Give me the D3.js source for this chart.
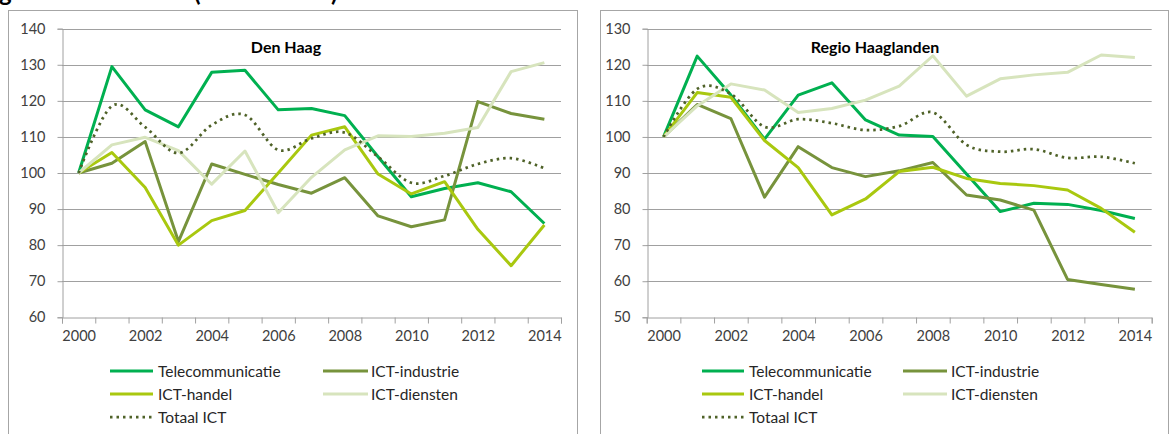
<!DOCTYPE html>
<html>
<head>
<meta charset="utf-8">
<script src="https://cdn.jsdelivr.net/npm/d3@7"></script>
<style>
  body { margin: 0; background: #fff; }
  svg { display: block; font-family: Lato, "Open Sans", sans-serif; }
</style>
</head>
<body>
<svg id="chart" width="1170" height="434"></svg>
<script>
// jaren en reeksen
const jaren = [2000, 2001, 2002, 2003, 2004, 2005, 2006, 2007, 2008, 2009, 2010, 2011, 2012, 2013, 2014];
const jaarLabels = [2000, 2002, 2004, 2006, 2008, 2010, 2012, 2014];
const reeksNamen = ["Telecommunicatie", "ICT-industrie", "ICT-handel", "ICT-diensten", "Totaal ICT"];
const reeksKleuren = ["#00b050", "#77933c", "#a9c80f", "#d7e4bd", "#4f6228"];

// Den Haag (index 2000 = 100)
const dhTelecom   = [100, 129.5, 117.5, 112.8, 127.9, 128.5, 117.5, 117.9, 115.9, 104.5, 93.4, 95.7, 97.3, 94.8, 86.0];
const dhIndustrie = [100, 102.7, 108.7, 81.0, 102.5, 99.6, 96.8, 94.4, 98.7, 88.1, 85.1, 87.0, 119.8, 116.5, 114.9];
const dhHandel    = [100, 105.7, 96.0, 80.0, 86.8, 89.6, 100.0, 110.5, 112.8, 99.7, 94.2, 97.6, 84.4, 74.3, 85.6];
const dhDiensten  = [100, 107.8, 109.9, 106.2, 96.9, 106.1, 89.0, 98.8, 106.4, 110.3, 110.1, 111.0, 112.6, 128.1, 130.6];
const dhTotaal    = [100, 118.6, 112.7, 105.5, 113.3, 116.1, 106.4, 109.6, 111.2, 104.5, 97.3, 99.2, 102.5, 104.1, 101.3];

// Regio Haaglanden (index 2000 = 100)
const rhTelecom   = [100, 122.4, 111.6, 99.4, 111.6, 115.0, 104.7, 100.5, 100.1, 89.7, 79.3, 81.6, 81.3, 79.6, 77.4];
const rhIndustrie = [100, 109.0, 105.1, 83.3, 97.3, 91.5, 89.0, 90.6, 92.9, 83.9, 82.5, 79.7, 60.5, 59.1, 57.8];
const rhHandel    = [100, 112.3, 111.0, 99.0, 91.5, 78.4, 82.8, 90.4, 91.6, 88.5, 87.1, 86.5, 85.3, 80.2, 73.6];
const rhDiensten  = [100, 108.6, 114.7, 113.0, 106.8, 107.9, 110.2, 114.1, 122.5, 111.3, 116.1, 117.2, 117.9, 122.7, 122.0];
const rhTotaal    = [100, 113.3, 111.9, 102.8, 104.9, 103.8, 101.9, 103.0, 106.8, 97.8, 95.9, 96.6, 94.2, 94.5, 92.7];

const grafieken = [
  {
    titel: "Den Haag", reeksen: [dhTelecom, dhIndustrie, dhHandel, dhDiensten, dhTotaal],
    yDomein: [60, 140],
    kader: { x: 8, y: 10, w: 569, h: 440 },
    plot: { x0: 62, x1: 561, y0: 28.7, y1: 317.3 },
    titelX: 286,
    legenda: [{ l0: 110, l1: 153, t: 158 }, { l0: 323, l1: 368, t: 371 }]
  },
  {
    titel: "Regio Haaglanden", reeksen: [rhTelecom, rhIndustrie, rhHandel, rhDiensten, rhTotaal],
    yDomein: [50, 130],
    kader: { x: 600, y: 10, w: 568, h: 440 },
    plot: { x0: 646.7, x1: 1151.7, y0: 28.7, y1: 317.3 },
    titelX: 875,
    legenda: [{ l0: 702, l1: 744, t: 749 }, { l0: 903, l1: 947, t: 951 }]
  }
];

const svg = d3.select("#chart");

// koptekst erboven, valt grotendeels buiten beeld (zoals in het origineel)
const kop = svg.append("g").attr("font-weight", "bold").attr("font-size", "24px").attr("fill", "#000");
kop.append("text").attr("x", -1).attr("y", 1).text("g");
kop.append("text").attr("x", 194).attr("y", 1).text("(");
kop.append("text").attr("x", 331).attr("y", 1).text(")");

grafieken.forEach(g => {
  const p = g.plot;
  const x = d3.scaleLinear().domain([1999.5, 2014.5]).range([p.x0, p.x1]);
  const y = d3.scaleLinear().domain(g.yDomein).range([p.y1, p.y0]);

  svg.append("rect")
      .attr("x", g.kader.x + 0.5).attr("y", g.kader.y + 0.5)
      .attr("width", g.kader.w).attr("height", g.kader.h)
      .attr("fill", "#fff").attr("stroke", "#a6a6a6");

  // rasterlijnen
  svg.append("g").selectAll("line")
      .data(y.ticks(8).filter(d => d > g.yDomein[0]))
      .enter().append("line")
      .attr("x1", p.x0).attr("x2", p.x1)
      .attr("y1", d => Math.round(y(d)) + 0.5).attr("y2", d => Math.round(y(d)) + 0.5)
      .attr("stroke", "#a0a0a0").attr("stroke-width", 1);

  // y-as
  const yAs = svg.append("g")
      .attr("transform", `translate(${Math.round(p.x0) + 0.5},0)`)
      .call(d3.axisLeft(y).ticks(8).tickSize(5).tickPadding(12));
  yAs.selectAll("text").attr("font-size", "14.5px").attr("fill", "#404040").attr("font-family", "Lato");

  // x-as: streepjes op de grenzen, labels op even jaren
  const grenzen = d3.range(1999.5, 2015, 1);
  const xAs = svg.append("g")
      .attr("transform", `translate(0,${Math.round(p.y1) + 0.5})`)
      .call(d3.axisBottom(x).tickValues(grenzen).tickSize(6).tickFormat(""));
  svg.append("g")
      .attr("transform", `translate(0,${Math.round(p.y1) + 0.5})`)
      .call(d3.axisBottom(x).tickValues(jaarLabels).tickSize(0).tickPadding(13).tickFormat(d3.format("d")))
      .call(s => s.select(".domain").remove())
      .selectAll("text").attr("font-size", "14.5px").attr("fill", "#404040").attr("font-family", "Lato");

  [yAs, xAs].forEach(a => {
    a.select(".domain").attr("stroke", "#a0a0a0");
    a.selectAll(".tick line").attr("stroke", "#a0a0a0");
  });

  // lijnen
  g.reeksen.forEach((waarden, i) => {
    const totaal = i === 4;
    const lijn = d3.line()
        .x((d, j) => x(jaren[j]))
        .y(d => y(d))
        .curve(totaal ? d3.curveCardinal : d3.curveLinear);
    svg.append("path")
        .datum(waarden)
        .attr("d", lijn)
        .attr("fill", "none")
        .attr("stroke", reeksKleuren[i])
        .attr("stroke-width", totaal ? 2.75 : 3)
        .attr("stroke-dasharray", totaal ? "2.5 4" : null)
        .attr("stroke-linejoin", "round");
  });

  // titel
  svg.append("text")
      .attr("x", g.titelX).attr("y", 53)
      .attr("text-anchor", "middle")
      .attr("font-size", "16px").attr("font-weight", "bold").attr("fill", "#000")
      .text(g.titel);

  // legenda
  const rijen = [371, 394, 417];
  reeksNamen.forEach((naam, i) => {
    const kol = g.legenda[i % 2];
    const ry = rijen[Math.floor(i / 2)];
    svg.append("line")
        .attr("x1", kol.l0).attr("x2", kol.l1)
        .attr("y1", ry).attr("y2", ry)
        .attr("stroke", reeksKleuren[i])
        .attr("stroke-width", i === 4 ? 2.75 : 3)
        .attr("stroke-dasharray", i === 4 ? "2.5 4" : null);
    svg.append("text")
        .attr("x", kol.t).attr("y", ry + 5.5)
        .attr("font-size", "15.5px").attr("fill", "#262626")
        .text(naam);
  });
});
</script>
</body>
</html>
